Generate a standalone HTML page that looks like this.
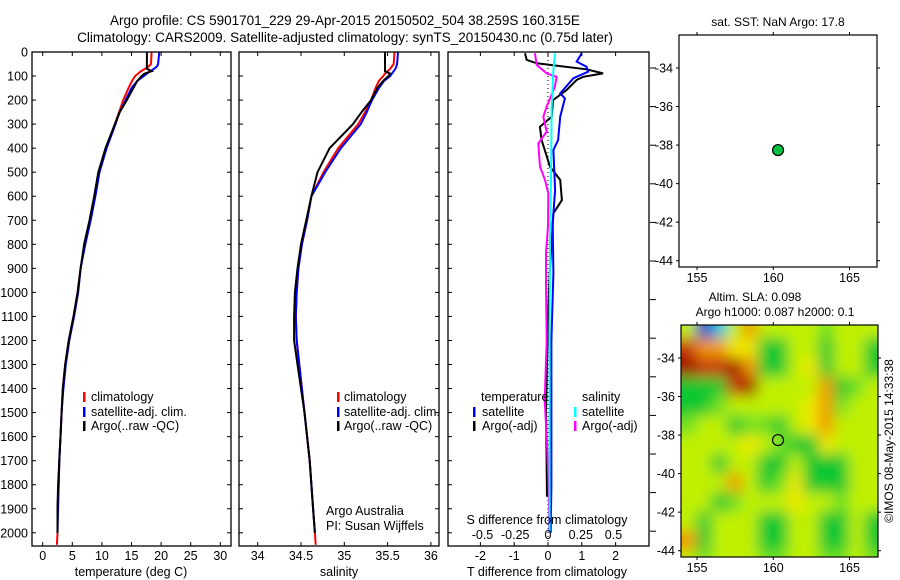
<!DOCTYPE html>
<html><head><meta charset="utf-8"><style>
html,body{margin:0;padding:0;background:#fff;}
svg{display:block;font-family:"Liberation Sans",Arial,sans-serif;}
text{fill:#000;}
</style></head><body>
<svg id="fig" width="900" height="580" viewBox="0 0 900 580" xmlns="http://www.w3.org/2000/svg">
<defs>
<filter id="blur" filterUnits="userSpaceOnUse" x="640" y="280" width="280" height="320"><feGaussianBlur stdDeviation="7"/></filter>
<clipPath id="mapclip"><rect x="681" y="325" width="197" height="232"/></clipPath>
<clipPath id="c1"><rect x="32" y="52" width="199" height="494"/></clipPath>
<clipPath id="c2"><rect x="239" y="52" width="200" height="494"/></clipPath>
<clipPath id="c3"><rect x="448" y="52" width="201" height="494"/></clipPath>
</defs>
<text x="345" y="25" font-size="13.5" text-anchor="middle">Argo profile: CS 5901701_229 29-Apr-2015 20150502_504 38.259S 160.315E</text>
<text x="345" y="42" font-size="13.5" text-anchor="middle">Climatology: CARS2009. Satellite-adjusted climatology: synTS_20150430.nc (0.75d later)</text>
<g id="g1" clip-path="url(#c1)"></g>
<g id="g2" clip-path="url(#c2)"></g>
<g id="g3" clip-path="url(#c3)"></g>
<g id="axes"></g>
<g id="sla" clip-path="url(#mapclip)"><g id="slacells" filter="url(#blur)"></g></g>
<g id="maps"></g>

<text x="131" y="576" font-size="12.5" text-anchor="middle">temperature (deg C)</text>
<text x="339" y="576" font-size="12.5" text-anchor="middle">salinity</text>
<text x="547" y="576" font-size="12.5" text-anchor="middle">T difference from climatology</text>
<text x="547" y="524" font-size="12.5" text-anchor="middle">S difference from climatology</text>
<text x="326" y="515" font-size="12.5">Argo Australia</text>
<text x="326" y="530" font-size="12.5">PI: Susan Wijffels</text>

<g font-size="12.5">
<rect x="83" y="392" width="2.5" height="10" fill="#f00"/><text x="91" y="401">climatology</text>
<rect x="83" y="407" width="2.5" height="10" fill="#00f"/><text x="91" y="416">satellite-adj. clim.</text>
<rect x="83" y="421" width="2.5" height="10" fill="#000"/><text x="91" y="430">Argo(..raw -QC)</text>
</g>
<g font-size="12.5">
<rect x="337" y="392" width="2.5" height="10" fill="#f00"/><text x="344" y="401">climatology</text>
<rect x="337" y="407" width="2.5" height="10" fill="#00f"/><text x="344" y="416">satellite-adj. clim.</text>
<rect x="337" y="421" width="2.5" height="10" fill="#000"/><text x="344" y="430">Argo(..raw -QC)</text>
</g>
<g font-size="12.5">
<text x="481" y="401">temperature</text>
<rect x="473" y="407" width="2.5" height="10" fill="#00f"/><text x="482" y="416">satellite</text>
<rect x="473" y="421" width="2.5" height="10" fill="#000"/><text x="482" y="430">Argo(-adj)</text>
<text x="582" y="401">salinity</text>
<rect x="574" y="407" width="2.5" height="10" fill="#0ff"/><text x="582" y="416">satellite</text>
<rect x="574" y="421" width="2.5" height="10" fill="#f0f"/><text x="582" y="430">Argo(-adj)</text>
</g>

<text x="778" y="26" font-size="12" text-anchor="middle">sat. SST: NaN Argo: 17.8</text>
<text x="755" y="301" font-size="12" text-anchor="middle">Altim. SLA: 0.098</text>
<text x="775" y="316" font-size="12" text-anchor="middle">Argo h1000: 0.087 h2000: 0.1</text>
<text transform="translate(893,441) rotate(-90)" font-size="12" text-anchor="middle">©IMOS 08-May-2015 14:33:38</text>
</svg>
<script>
// ---- profile data ----
const tempDepth = [0,50,60,70,80,90,100,120,150,200,250,300,400,500,600,700,800,900,1000,1100,1200,1300,1400,1500,1600,1700,1800,1900,2000,2050];
const climT = [18.4,18.3,17.9,17.3,16.6,16.1,15.6,15.1,14.5,13.6,12.9,12.2,10.7,9.5,8.8,8.0,7.1,6.4,5.9,5.2,4.4,3.8,3.4,3.2,3.0,2.8,2.7,2.5,2.5,2.4];
const satT = [19.7,19.5,19.3,18.8,18.2,17.6,17.1,16.0,15.0,14.0,13.0,12.3,10.8,9.6,8.9,8.1,7.2,6.4,6.0,5.3,4.5,3.9,3.5,3.2,3.0,2.8,2.7,2.6,2.5,null];
const argoT = [17.6,17.6,17.6,17.6,18.4,17.2,16.7,16.0,15.3,14.2,13.0,12.2,10.6,9.4,8.7,7.9,7.0,6.4,5.9,5.2,4.4,3.8,3.4,3.2,3.0,2.8,2.6,2.5,2.5,null];
const climS = [35.58,35.57,35.55,35.53,35.50,35.47,35.45,35.40,35.36,35.31,35.24,35.16,34.93,34.76,34.62,34.57,34.51,34.47,34.45,34.44,34.45,34.48,34.51,34.54,34.57,34.60,34.62,34.64,34.66,34.67];
const satS = [35.62,35.61,35.60,35.59,35.57,35.55,35.53,35.46,35.40,35.32,35.26,35.19,34.96,34.78,34.62,34.57,34.51,34.47,34.45,34.44,34.45,34.48,34.51,34.54,34.57,34.60,34.62,34.64,34.66,null];
const argoS = [35.47,35.47,35.47,35.47,35.47,35.53,35.51,35.45,35.38,35.31,35.20,35.10,34.83,34.69,34.62,34.56,34.50,34.46,34.43,34.42,34.42,34.46,34.50,34.54,34.57,34.60,34.62,34.64,34.66,null];
// ---- difference data ----
const argoDTDepth = [5,33,47,72,89,103,116,158,200,269,311,366,477,532,616,671,782,920,1100,1300,1500,1700,1850];
const argoDT = [-0.68,-0.63,-0.33,1.14,1.63,1.04,0.85,0.55,0.15,0.11,-0.24,-0.19,0.06,0.36,0.41,0.16,0.11,0.05,0.0,-0.03,-0.06,-0.04,-0.03];
const satDTDepth = [5,40,61,82,109,172,193,269,366,408,574,712,920,1200,1500,1800,2000];
const satDT = [1.0,0.85,1.14,1.19,0.75,0.36,0.5,0.36,0.30,0.16,0.21,0.14,0.16,0.1,0.1,0.1,0.08];
const argoDSDepth = [5,54,89,103,144,227,269,331,380,477,532,588,726,837,976,1200,1450,1600,1800,2000];
const argoDS = [-0.1,-0.086,-0.01,0.066,0.053,-0.01,-0.036,-0.01,-0.074,-0.061,-0.023,0.002,0,-0.015,-0.015,-0.01,-0.025,-0.01,0.005,0.01];
const satDSDepth = [5,89,227,532,782,1200,1600,2000];
const satDS = [0.053,0.04,0.028,0.023,0.015,0.012,0.012,0.012];
// ---- ticks ----
const depthTicks = [0,100,200,300,400,500,600,700,800,900,1000,1100,1200,1300,1400,1500,1600,1700,1800,1900,2000];
const tempTicks = [0,5,10,15,20,25,30];
const salTicks = [34,34.5,35,35.5,36];
const tdTicks = [-2,-1,0,1,2];
const sdTicks = [-0.5,-0.25,0,0.25,0.5];
const sdTickLabels = ["-0.5","-0.25","0","0.25","0.5"];
const lonTicks = [155,160,165];
const latTicks = [34,36,38,40,42,44];
// ---- float position ----
const floatLon = [160.315];
const floatLat = [38.259];
// ---- SLA grid (colour class 0..8), rows lat 32.5..44.5, cols lon 154.5..166.5 ----
const slaLons = [154.5,155.5,156.5,157.5,158.5,159.5,160.5,161.5,162.5,163.5,164.5,165.5,166.5];
const slaLats = [32.5,33.5,34.5,35.5,36.5,37.5,38.5,39.5,40.5,41.5,42.5,43.5,44.5];
const slaVals = [
[4,0,1,4,6,4,4,4,4,3,4,4,4],
[7,6,6,5,5,2,2,4,4,2,4,4,2],
[8,7,7,8,6,2,2,4,5,2,4,4,2],
[2,2,2,7,8,4,4,4,4,6,2,3,4],
[2,2,3,4,4,4,4,4,5,6,3,4,4],
[3,4,4,2,3,3,2,4,5,6,4,4,4],
[4,4,4,4,5,4,3,2,2,5,4,4,4],
[4,4,2,4,4,2,2,4,2,2,2,4,4],
[4,4,4,6,4,2,3,5,2,2,2,4,4],
[4,4,2,3,4,4,4,5,4,4,3,4,4],
[4,2,4,4,4,2,2,4,4,2,2,4,2],
[6,2,4,4,4,2,2,4,4,2,2,4,2],
[4,3,4,4,4,3,3,4,4,3,3,4,3]];
const slaColors = ["#0020d0","#00c8e0","#10c830","#70e020","#c0f000","#f0e800","#f09800","#c83808","#a00800"];

const NS="http://www.w3.org/2000/svg";
function mk(tag, attrs, parent){const e=document.createElementNS(NS,tag);for(const k in attrs)e.setAttribute(k,attrs[k]);parent.appendChild(e);return e;}
const depthY = d => 52 + d*0.2404;
const tempX = t => 42.7 + t*5.92;
const salX = s => 257.7 + (s-34)*86.6;
const tdX = v => 548 + v*33.8;
const sdX = v => 548 + v*131;
const lonX = l => 697 + (l-155)*15.25;
const latY1 = a => 68 + (a-34)*19.27;
const latY2 = a => 358 + (a-34)*19.27;

function line(g, depths, vals, xf, color, name){
  const pts=[];
  for(let i=0;i<depths.length;i++){ if(vals[i]==null) continue; pts.push(xf(vals[i]).toFixed(1)+","+depthY(depths[i]).toFixed(1)); }
  const p=mk("polyline",{points:pts.join(" "),fill:"none",stroke:color,"stroke-width":2,"stroke-linejoin":"miter"},g);
  
  
}
const g1=document.getElementById("g1"), g2=document.getElementById("g2"), g3=document.getElementById("g3");
line(g1,tempDepth,climT,tempX,"#f00","temperature-climatology-line");
line(g1,tempDepth,satT,tempX,"#00f","temperature-satellite-line");
line(g1,tempDepth,argoT,tempX,"#000","temperature-argo-line");
line(g2,tempDepth,climS,salX,"#f00","salinity-climatology-line");
line(g2,tempDepth,satS,salX,"#00f","salinity-satellite-line");
line(g2,tempDepth,argoS,salX,"#000","salinity-argo-line");
const zl=mk("line",{x1:tdX(0),y1:52,x2:tdX(0),y2:546,stroke:"#000","stroke-width":1,"stroke-dasharray":"1,3"},g3);


line(g3,argoDTDepth,argoDT,tdX,"#000","t-diff-argo-line");
line(g3,satDTDepth,satDT,tdX,"#00f","t-diff-satellite-line");
line(g3,argoDSDepth,argoDS,sdX,"#f0f","s-diff-argo-line");
line(g3,satDSDepth,satDS,sdX,"#0ff","s-diff-satellite-line");

const ax=document.getElementById("axes");
function frame(x0,y0,x1,y1,name){
  const r=mk("rect",{x:x0,y:y0,width:x1-x0,height:y1-y0,fill:"none",stroke:"#000","stroke-width":1.3},ax);
  
  
}
function tk(x1,y1,x2,y2){mk("line",{x1:x1,y1:y1,x2:x2,y2:y2,stroke:"#000","stroke-width":1},ax);}
function lbl(x,y,s,anchor,size,name){
  const t=mk("text",{x:x,y:y,"font-size":size||12.5,"text-anchor":anchor||"middle"},ax);
  t.textContent=s;
  
  
}
const panels=[[32,231,tempTicks,tempX],[239,439,salTicks,salX],[448,649,tdTicks,tdX]];
panels.forEach((p,i)=>{
  frame(p[0],52,p[1],546,"panel-frame-"+(i+1));
  depthTicks.forEach(d=>{const y=depthY(d); if(y>546)return; tk(p[0],y,p[0]+4,y); if(i<2) tk(p[1]-4,y,p[1],y);});
  p[2].forEach(v=>{const x=p[3](v); tk(x,52,x,56); tk(x,542,x,546);});
});
depthTicks.forEach(d=>lbl(28,depthY(d)+4.5,String(d),"end",12.5,"depth-tick-label"));
tempTicks.forEach(v=>lbl(tempX(v),560,String(v),"middle",12.5,"temperature-tick-label"));
salTicks.forEach(v=>lbl(salX(v),560,String(v),"middle",12.5,"salinity-tick-label"));
tdTicks.forEach(v=>lbl(tdX(v),560,String(v),"middle",12.5,"t-diff-tick-label"));
sdTicks.forEach((v,i)=>lbl(sdX(v),539,sdTickLabels[i],"middle",12.5,"s-diff-tick-label"));
for(let y=68;y<546;y+=38.6) tk(650,y,656,y);

// maps
const mg=document.getElementById("maps");
function mframe(x0,y0,x1,y1,yf,name){
  const r=mk("rect",{x:x0,y:y0,width:x1-x0,height:y1-y0,fill:"none",stroke:"#000","stroke-width":1.2},mg);
  
  
  lonTicks.forEach(l=>{const x=lonX(l);mk("line",{x1:x,y1:y0-3,x2:x,y2:y0,stroke:"#000"},mg);mk("line",{x1:x,y1:y1,x2:x,y2:y1+3,stroke:"#000"},mg);
    const t=mk("text",{x:x,y:y1+15,"font-size":12.5,"text-anchor":"middle"},mg);t.textContent=String(l);
    
    });
  latTicks.forEach(a=>{const y=yf(a);mk("line",{x1:x0-3,y1:y,x2:x0,y2:y,stroke:"#000"},mg);mk("line",{x1:x1,y1:y,x2:x1+3,y2:y,stroke:"#000"},mg);
    const t=mk("text",{x:x0-6,y:y+4.5,"font-size":12.5,"text-anchor":"end"},mg);t.textContent="-"+a;
    
    });
}
// heatmap (edge cells extended outward so blur doesn't fade at frame)
const sc=document.getElementById("slacells");
slaLats.forEach((a,r)=>slaLons.forEach((l,c)=>{
  let x=lonX(l-0.5), y=latY2(a-0.5), w=15.25+1, h=19.27+1;
  if(c===0){x-=20;w+=20;} if(c===slaLons.length-1){w+=20;}
  if(r===0){y-=20;h+=20;} if(r===slaLats.length-1){h+=20;}
  const cell=mk("rect",{x:x-0.5,y:y-0.5,width:w,height:h,fill:slaColors[slaVals[r][c]]},sc);
  
  
}));
mframe(679,35,877,267,latY1,"sst-map-frame");
mframe(681,325,878,557,latY2,"sla-map-frame");
const d1=mk("circle",{cx:lonX(floatLon[0]),cy:latY1(floatLat[0]),r:5.5,fill:"#00c040",stroke:"#000","stroke-width":1.2},mg);


const d2=mk("circle",{cx:lonX(floatLon[0]),cy:latY2(floatLat[0]),r:5.5,fill:"none",stroke:"#000","stroke-width":1.2},mg);


</script>
</body></html>
